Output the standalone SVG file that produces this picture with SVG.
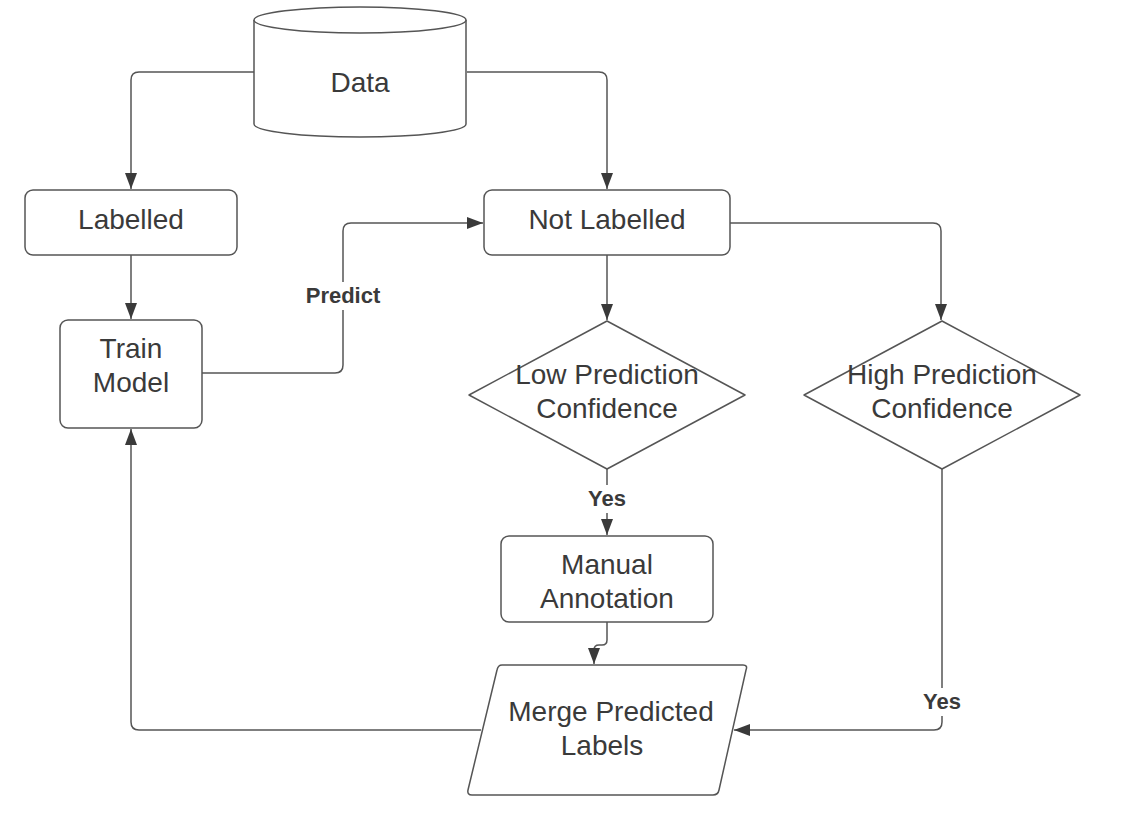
<svg xmlns="http://www.w3.org/2000/svg" width="1124" height="830" viewBox="0 0 1124 830">
<defs>
<style>
.n{fill:#fff;stroke:#555;stroke-width:1.5}
.t{font-family:"Liberation Sans",Arial,sans-serif;font-size:28px;fill:#3a3a3a;text-anchor:middle}
.c{fill:none;stroke:#555;stroke-width:1.5}
.l{font-family:"Liberation Sans",Arial,sans-serif;font-size:22px;font-weight:bold;fill:#3a3a3a;text-anchor:middle}
</style>
<marker id="a" markerWidth="16" markerHeight="12" viewBox="0 0 16 12" refX="16" refY="6" orient="auto" markerUnits="userSpaceOnUse">
<path d="M0,0 L16,6 L0,12 Z" fill="#3a3a3a"/>
</marker>
</defs>
<rect width="1124" height="830" fill="#fff"/>
<g id="connectors">
<path class="c" d="M254,72 H139 Q131,72 131,80 V189" marker-end="url(#a)"/>
<path class="c" d="M467,72 H599 Q607,72 607,80 V189" marker-end="url(#a)"/>
<path class="c" d="M131,255 V319" marker-end="url(#a)"/>
<path class="c" d="M202,373 H335 Q343,373 343,365 V231 Q343,223 351,223 H483" marker-end="url(#a)"/>
<path class="c" d="M607,255 V320" marker-end="url(#a)"/>
<path class="c" d="M730,223 H933 Q941,223 941,231 V320" marker-end="url(#a)"/>
<path class="c" d="M607,469 V535" marker-end="url(#a)"/>
<path class="c" d="M607,622 V640 Q607,645 602,645 H599 Q594,645 594,650 V664" marker-end="url(#a)"/>
<path class="c" d="M942,469 V722 Q942,730 934,730 H734" marker-end="url(#a)"/>
<path class="c" d="M481,730 H139 Q131,730 131,722 V429" marker-end="url(#a)"/>
<rect x="298" y="282" width="90" height="28" fill="#fff"/>
<text class="l" x="343" y="303">Predict</text>
<rect x="583" y="485" width="48" height="28" fill="#fff"/>
<text class="l" x="607" y="506">Yes</text>
<rect x="918" y="688" width="48" height="28" fill="#fff"/>
<text class="l" x="942" y="709">Yes</text>
</g>
<g id="data">
<path class="n" d="M254,20 V124 A106,13 0 0 0 466,124 V20"/>
<ellipse class="n" cx="360" cy="20" rx="106" ry="13"/>
<text class="t" x="360" y="92">Data</text>
</g>
<g id="labelled">
<rect class="n" x="25" y="190" width="212" height="65" rx="8"/>
<text class="t" x="131" y="229">Labelled</text>
</g>
<g id="not-labelled">
<rect class="n" x="484" y="190" width="246" height="65" rx="8"/>
<text class="t" x="607" y="229">Not Labelled</text>
</g>
<g id="train-model">
<rect class="n" x="60" y="320" width="142" height="108" rx="8"/>
<text class="t" x="131" y="358">Train</text>
<text class="t" x="131" y="392">Model</text>
</g>
<g id="low-confidence">
<path class="n" d="M607,321 L745,395 L607,469 L469,395 Z" stroke-linejoin="round"/>
<text class="t" x="607" y="384">Low Prediction</text>
<text class="t" x="607" y="418">Confidence</text>
</g>
<g id="high-confidence">
<path class="n" d="M942,321 L1080,395 L942,469 L804,395 Z" stroke-linejoin="round"/>
<text class="t" x="942" y="384">High Prediction</text>
<text class="t" x="942" y="418">Confidence</text>
</g>
<g id="manual-annotation">
<rect class="n" x="501" y="536" width="212" height="86" rx="8"/>
<text class="t" x="607" y="574">Manual</text>
<text class="t" x="607" y="608">Annotation</text>
</g>
<g id="merge">
<path class="n" d="M502,665 H743 Q748,665 746,670 L719,790 Q718,795 713,795 H472 Q467,795 468,790 L497,670 Q498,665 502,665 Z"/>
<text class="t" x="611" y="721">Merge Predicted</text>
<text class="t" x="602" y="755">Labels</text>
</g>
</svg>
